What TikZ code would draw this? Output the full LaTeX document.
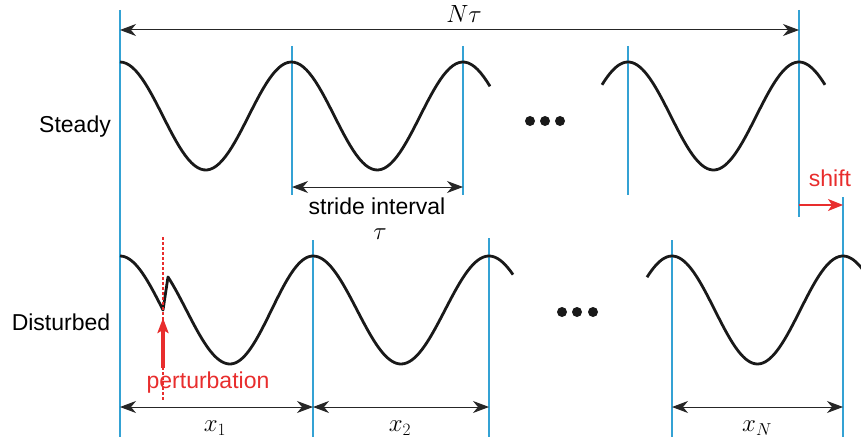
\documentclass[tikz,border=0pt]{standalone}
\usepackage{fontspec}
\setmainfont{Liberation Sans}
\usetikzlibrary{arrows.meta}
\definecolor{guide}{RGB}{52,162,212}
\definecolor{pert}{RGB}{232,45,45}
\tikzset{
  guideline/.style={draw=guide,line width=1.2pt},
  wave/.style={draw=black!90,line width=2.8pt,line join=round},
  dimarrow/.style={draw=black!85,line width=1pt,{Stealth[length=16pt,width=12pt,inset=5pt]}-{Stealth[length=16pt,width=12pt,inset=5pt]}},
  lbl/.style={font=\fontsize{23}{27}\selectfont,inner sep=0pt},
  mlbl/.style={font=\fontsize{24}{28}\selectfont,inner sep=0pt},
  dotnode/.style={circle,fill=black!90,inner sep=0pt,minimum size=10pt},
}
\begin{document}
\begin{tikzpicture}[x=1pt,y=-1pt]
\useasboundingbox (0,0) rectangle (861,441);
% guide line end points
\coordinate (gA1) at (120,10);  \coordinate (gA2) at (120,437);
\coordinate (gB1) at (292,46);  \coordinate (gB2) at (292,195);
\coordinate (gC1) at (463,46);  \coordinate (gC2) at (463,195);
\coordinate (gD1) at (628,46);  \coordinate (gD2) at (628,195);
\coordinate (gE1) at (799,10);  \coordinate (gE2) at (799,217);
\coordinate (gF1) at (843,197); \coordinate (gF2) at (843,437);
\coordinate (gG1) at (313,240); \coordinate (gG2) at (313,437);
\coordinate (gH1) at (489,238); \coordinate (gH2) at (489,437);
\coordinate (gI1) at (672,240); \coordinate (gI2) at (672,437);
\foreach \a in {A,B,C,D,E,F,G,H,I} \draw[guideline] (g\a1) -- (g\a2);

% steady waves
\draw[wave] plot[domain=120:490,samples=120] (\x,{116-54*cos(((\x-120)/171.5)*360)});
\draw[wave] plot[domain=602:825,samples=90] (\x,{116-54*cos(((\x-628)/171)*360)});

% disturbed waves
\draw[wave] plot[domain=120:163,samples=20] (\x,{310-54*cos(((\x-120)/172)*360)})
  -- plot[domain=168:230,samples=30] (\x,{310-54*cos(52.3+((\x-168)/62)*127.7)})
  -- plot[domain=230:313,samples=40] (\x,{310-54*cos(180+((\x-230)/83)*180)})
  -- plot[domain=313:513,samples=80] (\x,{310-54*cos(((\x-313)/176)*360)});
\begin{scope}
\clip (0,0) rectangle (861,441);
\draw[wave] plot[domain=647:866,samples=90] (\x,{310-54*cos(((\x-672)/171)*360)});
\end{scope}

% dots
\node[dotnode] (d1) at (530,121) {};
\node[dotnode] (d2) at (545,121) {};
\node[dotnode] (d3) at (560,121) {};
\node[dotnode] (d4) at (562,312) {};
\node[dotnode] (d5) at (577,312) {};
\node[dotnode] (d6) at (593,312) {};

% dimension arrows
\coordinate (nL) at (120,30); \coordinate (nR) at (799,30);
\draw[dimarrow] (nL) -- (nR);
\coordinate (sL) at (292,187); \coordinate (sR) at (463,187);
\draw[dimarrow] (sL) -- (sR);
\coordinate (b1) at (120,407); \coordinate (b2) at (313,407);
\coordinate (b3) at (489,407); \coordinate (b4) at (672,407); \coordinate (b5) at (843,407);
\draw[dimarrow] (b1) -- (b2);
\draw[dimarrow] (b2) -- (b3);
\draw[dimarrow] (b4) -- (b5);

% shift
\coordinate (shA) at (799,205); \coordinate (shB) at (843,205);
\draw[draw=pert,line width=1.3pt,-{Stealth[length=15pt,width=12pt,inset=4pt]}] (shA) -- (shB);
\node[lbl,text=pert] (shift) at (830,178) {shift};

% perturbation
\coordinate (pT) at (163,237); \coordinate (pB) at (163,400);
\draw[draw=pert,line width=1.3pt,dash pattern=on 3pt off 2pt] (pT) -- (pB);
\coordinate (paS) at (163,368); \coordinate (paE) at (163,318);
\draw[draw=pert,line width=3.5pt,-{Stealth[length=15pt,width=11pt,inset=3pt]}] (paS) -- (paE);
\node[lbl,text=pert] (pert) at (208,383) {perturbation};

% labels
\node[lbl] (steady) at (75,127) {Steady};
\node[lbl] (dist) at (61,322) {Disturbed};
\node[lbl] (stride) at (377,206) {stride interval};
\node[mlbl] (tau) at (380,234) {$\tau$};
\node[mlbl] (Ntau) at (464,14) {$N\tau$};
\node[mlbl] (x1) at (215,428) {$x_1$};
\node[mlbl] (x2) at (400,428) {$x_2$};
\node[mlbl] (xN) at (757,428) {$x_N$};
\end{tikzpicture}
\end{document}
